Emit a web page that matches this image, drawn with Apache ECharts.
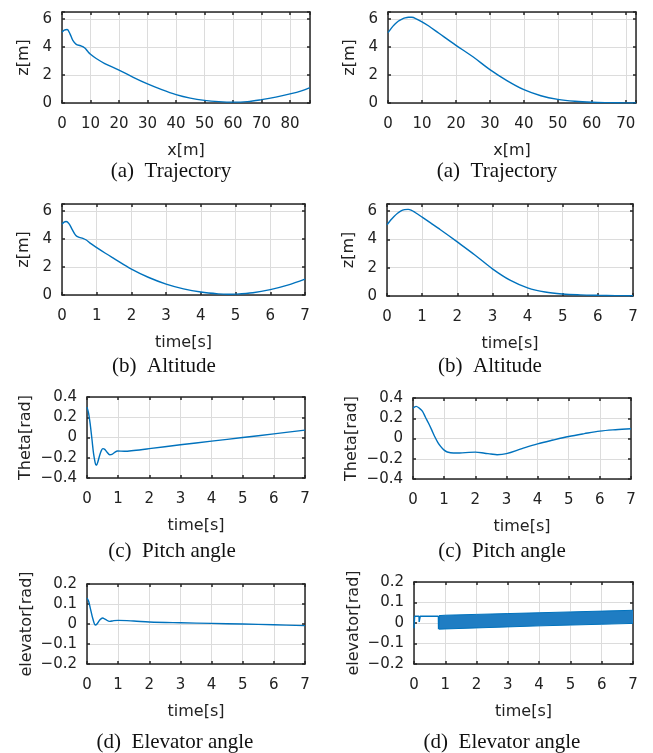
<!DOCTYPE html>
<html><head><meta charset="utf-8">
<script src="https://cdn.jsdelivr.net/npm/echarts@6/dist/echarts.min.js"></script>
<style>html,body{margin:0;padding:0;background:#fff}#c{width:653px;height:753px}</style>
</head><body><div id="c"></div>
<script>
// ---- data ----
const trajLX = [0,0.8,1.8,2.8,3.8,5,6.5,8,9,10,12,15,20,25,30,35,40,45,50,55,60,65,70,75,80,84,87];
const trajLZ = [5.05,5.2,5.25,4.94,4.47,4.19,4.09,3.93,3.69,3.48,3.18,2.82,2.35,1.83,1.36,0.95,0.6,0.35,0.19,0.1,0.06,0.1,0.24,0.42,0.65,0.87,1.1];
const trajRX = [0,1,2,3,4,5,6,7,8,10,12,15,20,25,30,35,40,45,50,55,60,65,70,73];
const trajRZ = [5.02,5.35,5.62,5.84,5.98,6.08,6.13,6.12,6.05,5.8,5.5,4.98,4.12,3.3,2.38,1.6,0.95,0.52,0.26,0.12,0.05,0.025,0.012,0.01];
const altLT = [0,0.06,0.12,0.2,0.3,0.4,0.5,0.6,0.7,0.8,1,1.25,1.5,2,2.5,3,3.5,4,4.5,4.8,5,5.5,6,6.5,7];
const altLZ = [5.05,5.2,5.25,5.1,4.65,4.25,4.12,4.05,3.93,3.72,3.38,2.98,2.6,1.85,1.25,0.78,0.44,0.21,0.08,0.05,0.06,0.16,0.38,0.7,1.13];
const altRT = [0,0.1,0.2,0.3,0.4,0.5,0.6,0.7,0.8,1,1.25,1.5,2,2.5,3,3.5,4,4.5,5,5.5,6,6.5,7];
const altRZ = [5.03,5.35,5.62,5.85,6.02,6.1,6.12,6.05,5.9,5.57,5.15,4.72,3.82,2.9,1.92,1.12,0.58,0.28,0.14,0.08,0.05,0.03,0.02];
const pitchLT = [0,0.05,0.1,0.16,0.21,0.26,0.29,0.32,0.35,0.41,0.46,0.51,0.57,0.64,0.73,0.8,0.89,0.98,1.2,1.5,2,3,4,5,6,7];
const pitchLV = [0.30,0.24,0.14,-0.02,-0.157,-0.245,-0.273,-0.265,-0.24,-0.173,-0.13,-0.11,-0.117,-0.143,-0.17,-0.167,-0.147,-0.133,-0.136,-0.128,-0.11,-0.072,-0.036,0.0,0.036,0.073];
const pitchRT = [0,0.1,0.2,0.3,0.4,0.5,0.6,0.7,0.8,0.9,1,1.1,1.3,1.5,1.8,2,2.3,2.5,2.7,3,3.5,4,4.5,5,5.5,6,6.5,7];
const pitchRV = [0.30,0.317,0.3,0.27,0.21,0.15,0.085,0.017,-0.04,-0.083,-0.115,-0.133,-0.143,-0.143,-0.137,-0.135,-0.145,-0.153,-0.16,-0.15,-0.1,-0.053,-0.015,0.02,0.048,0.073,0.087,0.097];
const elevLT = [0,0.05,0.1,0.19,0.27,0.32,0.41,0.5,0.59,0.73,0.86,1.0,1.5,2,3,4,5,6,7];
const elevLV = [0.13,0.115,0.083,0.025,-0.005,0.0,0.02,0.03,0.023,0.013,0.017,0.018,0.015,0.01,0.006,0.003,0.0,-0.004,-0.008];
const elevRT = [0,0.02,0.16,0.165,0.195,0.2,0.78,0.785,0.795,0.8];
const elevRV = [-0.025,0.033,0.033,0.005,0.005,0.033,0.033,-0.03,-0.03,0.034];
const elevBandT = [0.8,1,2,3,4,5,6,7];
const elevBandHi = [0.036,0.038,0.042,0.046,0.050,0.054,0.058,0.062];
const elevBandLo = [-0.030,-0.029,-0.024,-0.019,-0.014,-0.010,-0.006,-0.002];

const zip = (a, b) => a.map((v, i) => [v, b[i]]);

// ---- layout ----
const panels = [
  {g:[62,12,248,91],  x:[0,87,10], y:[0,6.5,2], xn:'x[m]', yn:'z[m]', yg:30, cap:'(a)  Trajectory', cx:171, cy:171, d:zip(trajLX,trajLZ)},
  {g:[388,12,248,91], x:[0,73,10], y:[0,6.5,2], xn:'x[m]', yn:'z[m]', yg:30, cap:'(a)  Trajectory', cx:497, cy:171, d:zip(trajRX,trajRZ)},
  {g:[62,204,243,91], x:[0,7,1], y:[0,6.5,2], xn:'time[s]', yn:'z[m]', yg:30, cap:'(b)  Altitude', cx:164, cy:366, d:zip(altLT,altLZ)},
  {g:[387,204,246,92],x:[0,7,1], y:[0,6.5,2], xn:'time[s]', yn:'z[m]', yg:30, cap:'(b)  Altitude', cx:490, cy:366, d:zip(altRT,altRZ)},
  {g:[87,397,218,81], x:[0,7,1], y:[-0.4,0.4,0.2], xn:'time[s]', yn:'Theta[rad]', yg:53, cap:'(c)  Pitch angle', cx:172, cy:551, d:zip(pitchLT,pitchLV)},
  {g:[413,398,218,81],x:[0,7,1], y:[-0.4,0.4,0.2], xn:'time[s]', yn:'Theta[rad]', yg:53, cap:'(c)  Pitch angle', cx:502, cy:551, d:zip(pitchRT,pitchRV)},
  {g:[87,584,218,80], x:[0,7,1], y:[-0.2,0.2,0.1], xn:'time[s]', yn:'elevator[rad]', yg:52, cap:'(d)  Elevator angle', cx:175, cy:742, d:zip(elevLT,elevLV)},
  {g:[414,582,219,82],x:[0,7,1], y:[-0.2,0.2,0.1], xn:'time[s]', yn:'elevator[rad]', yg:52, cap:'(d)  Elevator angle', cx:502, cy:742, d:zip(elevRT,elevRV), band:true}
];

const FONT = 'DejaVu Sans';
const FRAME = '#262626';
const BLUE = '#0072BD';
function fmt(int){
  return function(v){
    const k = v / int;
    if (Math.abs(k - Math.round(k)) > 1e-6) return '';
    const r = Math.round(v * 1000) / 1000;
    return String(r).replace('-', '\u2212');
  };
}

const grid = [], xAxis = [], yAxis = [], series = [];
panels.forEach((p, i) => {
  grid.push({left:p.g[0], top:p.g[1], width:p.g[2], height:p.g[3], containLabel:false});
  const common = {type:'value', gridIndex:i};
  const line = {show:true, onZero:false, lineStyle:{color:FRAME, width:1.5}};
  const tick = {show:true, inside:true, length:3, lineStyle:{color:FRAME, width:1.5}};
  xAxis.push(Object.assign({}, common, {
    position:'bottom', min:p.x[0], max:p.x[1], interval:p.x[2],
    axisLine:line, axisTick:tick,
    axisLabel:{show:true, margin:14, fontFamily:FONT, fontSize:15, color:'#222', formatter:fmt(p.x[2])},
    splitLine:{show:true, lineStyle:{color:'#dcdcdc', width:1}},
    name:p.xn, nameLocation:'middle', nameGap:40, nameTextStyle:{fontFamily:FONT, fontSize:16, color:'#222'}
  }));
  xAxis.push(Object.assign({}, common, {
    position:'top', min:p.x[0], max:p.x[1], interval:p.x[2],
    axisLine:line, axisTick:tick, axisLabel:{show:false}, splitLine:{show:false}
  }));
  yAxis.push(Object.assign({}, common, {
    position:'left', min:p.y[0], max:p.y[1], interval:p.y[2],
    axisLine:line, axisTick:tick,
    axisLabel:{show:true, margin:10, fontFamily:FONT, fontSize:15, color:'#222', formatter:fmt(p.y[2])},
    splitLine:{show:true, lineStyle:{color:'#dcdcdc', width:1}},
    name:p.yn, nameLocation:'middle', nameGap:p.yg, nameTextStyle:{fontFamily:FONT, fontSize:16, color:'#222'}
  }));
  yAxis.push(Object.assign({}, common, {
    position:'right', min:p.y[0], max:p.y[1], interval:p.y[2],
    axisLine:line, axisTick:tick, axisLabel:{show:false}, splitLine:{show:false}
  }));
  series.push({
    type:'line', xAxisIndex:2*i, yAxisIndex:2*i, data:p.d, showSymbol:false,
    smooth: p.band ? false : 0.35, clip:true,
    lineStyle:{color:BLUE, width:1.4}, z:3
  });
  if (p.band) {
    // chattering band: upper envelope filled down to 0, lower envelope filled up to 0
    series.push({
      type:'line', xAxisIndex:2*i, yAxisIndex:2*i,
      data:zip(elevBandT, elevBandHi), showSymbol:false,
      lineStyle:{color:BLUE, width:1},
      areaStyle:{color:'#1f7dc3', opacity:1, origin:'auto'}
    });
    series.push({
      type:'line', xAxisIndex:2*i, yAxisIndex:2*i,
      data:zip(elevBandT, elevBandLo), showSymbol:false,
      lineStyle:{color:BLUE, width:1},
      areaStyle:{color:'#1f7dc3', opacity:1, origin:'auto'}
    });
  }
});

const chart = echarts.init(document.getElementById('c'), null, {renderer:'canvas'});
chart.setOption({
  animation:false, grid, xAxis, yAxis, series,
  graphic: panels.map(p => ({
    type:'text', x:p.cx, y:p.cy,
    style:{text:p.cap, fontFamily:'Liberation Serif', fontSize:21, fill:'#111', align:'center', verticalAlign:'middle'}
  }))
});
</script>
</body></html>
